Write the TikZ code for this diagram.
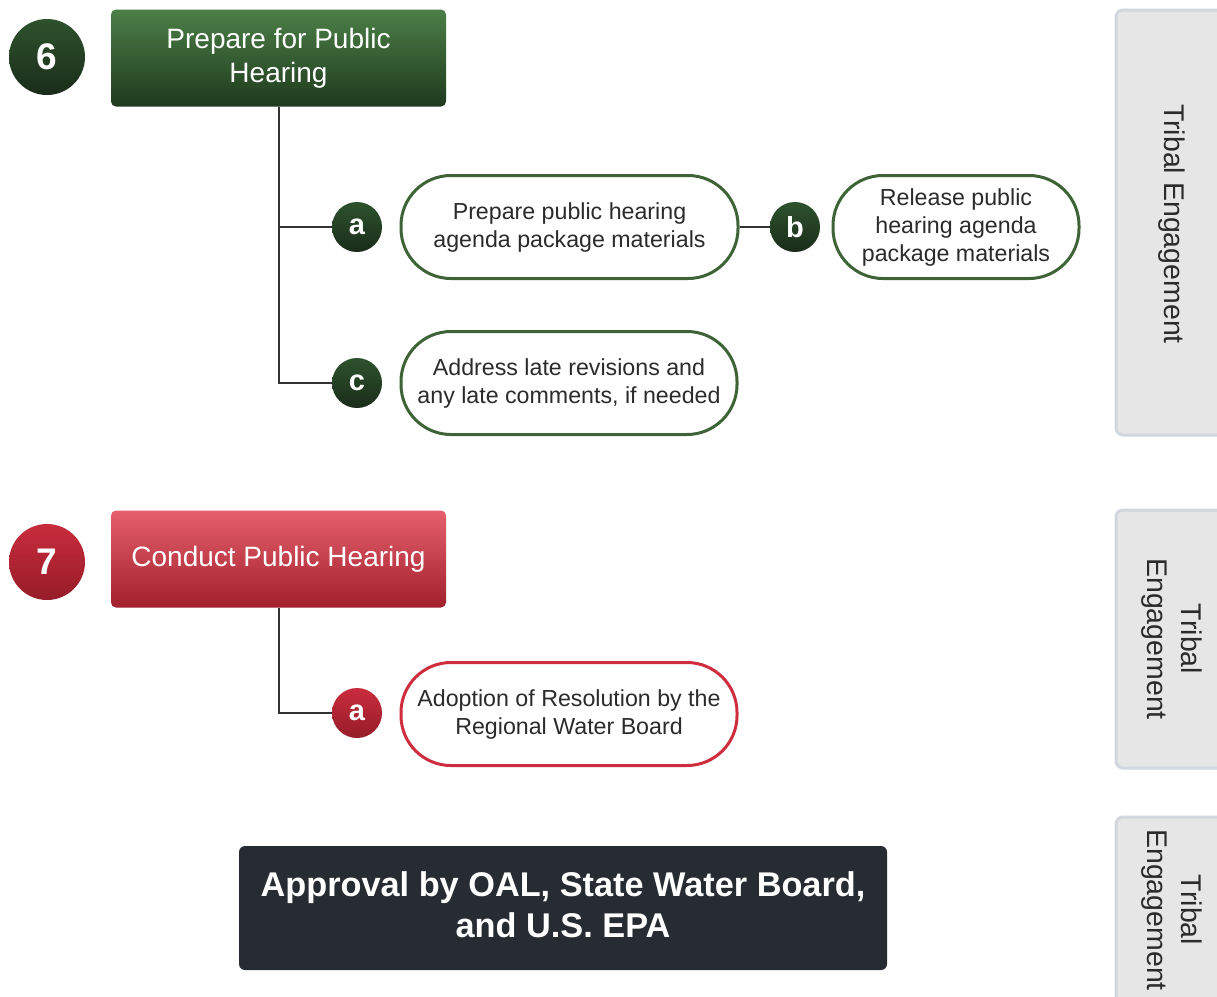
\documentclass[tikz,border=0pt]{standalone}
\usepackage{fontspec}
\setmainfont{Liberation Sans}
\definecolor{gtop}{HTML}{4B7F46}
\definecolor{gbot}{HTML}{1F3A1E}
\definecolor{gctop}{HTML}{2E522D}
\definecolor{gcbot}{HTML}{1A2C1A}
\definecolor{rtop}{HTML}{E5606C}
\definecolor{rbot}{HTML}{A21F2C}
\definecolor{rctop}{HTML}{C92C3C}
\definecolor{rcbot}{HTML}{961C29}
\definecolor{gline}{HTML}{3D6336}
\definecolor{rline}{HTML}{CE2D3D}
\definecolor{linec}{HTML}{333333}
\definecolor{txt}{HTML}{2B2B2B}
\definecolor{darkbox}{HTML}{272B32}
\definecolor{tribfill}{HTML}{E6E6E6}
\definecolor{tribline}{HTML}{D2D7DD}
\begin{document}
\begin{tikzpicture}[x=1pt,y=-1pt,
  conn/.style={draw=linec,line width=2pt},
  numc/.style={circle,minimum size=76pt,inner sep=0pt,text=white,font=\fontsize{37}{40}\selectfont\bfseries},
  letc/.style={circle,minimum size=50pt,inner sep=0pt,text=white,font=\fontsize{29}{30}\selectfont\bfseries},
  gcirc/.style={top color=gctop,bottom color=gcbot},
  rcirc/.style={top color=rctop,bottom color=rcbot},
  header/.style={rectangle,rounded corners=5pt,minimum width=335pt,minimum height=97pt,inner sep=0pt,align=center,text=white,font=\fontsize{28}{34}\selectfont},
  pill/.style={rectangle,rounded corners=50pt,fill=white,line width=3pt,minimum height=103pt,inner sep=0pt,align=center,text=txt,font=\fontsize{23.2}{28}\selectfont},
  tribbox/.style={draw=tribline,fill=tribfill,line width=3pt,rounded corners=7pt},
  tribtxt/.style={rotate=-90,align=center,text=txt,font=\fontsize{28.5}{34}\selectfont},
  apptxt/.style={align=center,text=white,font=\fontsize{34.3}{41}\selectfont\bfseries,yshift=3pt}
]
\clip (0,0) rectangle (1217,996);
\fill[white] (0,0) rectangle (1217,996);

% Tribal engagement boxes
\draw[tribbox] (1116,10) rectangle (1250,435);
\node[tribtxt] (t1) at (1172,224) {Tribal Engagement};
\draw[tribbox] (1116,510) rectangle (1250,768);
\node[tribtxt] (t2) at (1172,639) {Tribal\\Engagement};
\draw[tribbox] (1116,817) rectangle (1250,1030);
\node[tribtxt] (t3) at (1172,910) {Tribal\\Engagement};

% Step 6
\node[numc,gcirc] (n6) at (47,57) {6};
\node[header,top color=gtop,bottom color=gbot] (h6) at (278.5,58) {Prepare for Public\\Hearing};
\node[letc,gcirc] (ca) at (357,227) {a};
\node[letc,gcirc] (cc) at (357,383) {c};
\node[pill,draw=gline,minimum width=337pt] (pa) at (569.5,227) {Prepare public hearing\\agenda package materials};
\node[letc,gcirc] (cb) at (795,227) {b};
\node[pill,draw=gline,minimum width=246pt] (pb) at (956,227) {Release public\\hearing agenda\\package materials};
\node[pill,draw=gline,minimum width=336pt] (pc) at (569,383) {Address late revisions and\\any late comments, if needed};
\draw[conn] (h6.south) |- (ca.west);
\draw[conn] (h6.south) |- (cc.west);
\draw[conn] (pa.east) -- (cb.west);

% Step 7
\node[numc,rcirc] (n7) at (47,562) {7};
\node[header,top color=rtop,bottom color=rbot] (h7) at (278.5,559) {Conduct Public Hearing};
\node[letc,rcirc] (ra) at (357,713) {a};
\node[pill,draw=rline,minimum width=336pt] (pr) at (569,714) {Adoption of Resolution by the\\Regional Water Board};
\draw[conn] (h7.south) |- (ra.west);

% Approval
\node[rectangle,rounded corners=6pt,fill=darkbox,minimum width=648pt,minimum height=124pt,inner sep=0pt,
  label={[apptxt]center:Approval by OAL, State Water Board,\\and U.S. EPA}] (ap) at (563,908) {};
\end{tikzpicture}
\end{document}
